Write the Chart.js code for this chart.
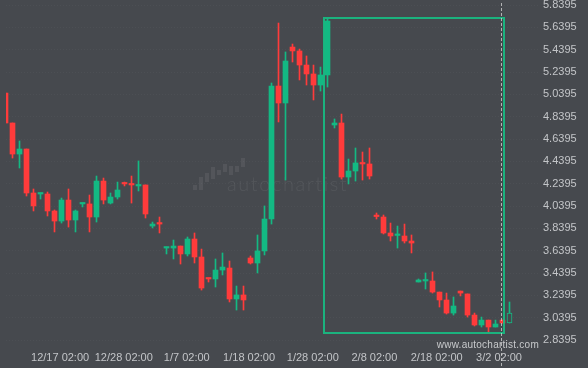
<!DOCTYPE html>
<html>
<head>
<meta charset="utf-8">
<title>Candles</title>
<script src="https://cdn.jsdelivr.net/npm/chart.js@4.4.1/dist/chart.umd.min.js"></script>
<style>
  html, body { margin: 0; padding: 0; background: #46494e; }
  canvas { display: block; }
</style>
</head>
<body>
<canvas id="chart" width="588" height="368"></canvas>
<script>
// daily candles, oldest first
const opens = [
  5.051, 4.783, 4.505, 4.550, 4.156, 4.147, 4.147, 3.995, 3.905, 4.093,
  3.914, 4.058, 4.058, 3.941, 4.263, 4.066, 4.120, 4.245, 4.237, 4.219,
  4.228, 3.860, 3.887, 3.663, 3.663, 3.681, 3.610, 3.744, 3.583, 3.395,
  3.386, 3.466, 3.484, 3.207, 3.243, 3.574, 3.529, 3.637, 3.923, 5.114,
  4.962, 5.463, 5.428, 5.302, 5.222, 5.123, 5.213, 4.765, 4.783, 4.299,
  4.353, 4.425, 4.416, 3.955, 3.941, 3.798, 3.776, 3.771, 3.726, 3.359,
  3.368, 3.368, 3.269, 3.198, 3.081, 3.278, 3.252, 3.063, 2.974, 3.018,
  2.956, 3.018, 2.992
];
const highs = [
  5.051, 4.783, 4.622, 4.550, 4.192, 4.156, 4.165, 4.004, 4.111, 4.192,
  4.004, 4.066, 4.138, 4.308, 4.290, 4.156, 4.254, 4.254, 4.308, 4.443,
  4.228, 3.896, 3.941, 3.672, 3.735, 3.681, 3.762, 3.798, 3.654, 3.395,
  3.565, 3.619, 3.547, 3.323, 3.323, 3.592, 3.780, 4.040, 5.141, 5.678,
  5.419, 5.490, 5.445, 5.383, 5.302, 5.284, 5.714, 4.819, 4.863, 4.460,
  4.559, 4.523, 4.559, 3.977, 3.959, 3.887, 3.860, 3.878, 3.780, 3.386,
  3.440, 3.449, 3.269, 3.260, 3.225, 3.278, 3.252, 3.081, 3.045, 3.018,
  3.018, 3.018, 3.180
];
const lows = [
  4.783, 4.469, 4.380, 4.129, 3.995, 4.102, 3.950, 3.807, 3.887, 3.851,
  3.807, 4.031, 3.807, 3.896, 4.058, 4.058, 4.102, 4.219, 4.066, 4.174,
  3.932, 3.843, 3.798, 3.610, 3.565, 3.520, 3.592, 3.529, 3.287, 3.359,
  3.314, 3.422, 3.180, 3.108, 3.108, 3.520, 3.440, 3.601, 3.878, 4.792,
  4.272, 5.329, 5.168, 5.123, 4.989, 5.069, 5.105, 4.738, 4.281, 4.237,
  4.263, 4.272, 4.281, 3.923, 3.789, 3.726, 3.663, 3.708, 3.619, 3.359,
  3.296, 3.260, 3.135, 3.072, 3.063, 3.234, 3.045, 2.965, 2.956, 2.911,
  2.956, 2.992, 2.992
];
const closes = [
  4.783, 4.505, 4.550, 4.156, 4.040, 4.156, 3.995, 3.905, 4.093, 3.914,
  3.995, 4.066, 3.941, 4.263, 4.093, 4.120, 4.183, 4.237, 4.228, 4.228,
  3.968, 3.878, 3.878, 3.672, 3.681, 3.610, 3.744, 3.583, 3.305, 3.386,
  3.466, 3.493, 3.207, 3.243, 3.198, 3.529, 3.637, 3.923, 5.114, 4.962,
  5.338, 5.428, 5.302, 5.222, 5.123, 5.213, 5.696, 4.783, 4.299, 4.353,
  4.425, 4.416, 4.308, 3.945, 3.798, 3.771, 3.784, 3.726, 3.708, 3.377,
  3.377, 3.269, 3.198, 3.081, 3.144, 3.260, 3.063, 2.974, 3.018, 2.956,
  2.983, 2.992, 3.081
];

// date labels along the bottom and the candle slot each one sits under
const xTickPos = [7.8, 16.9, 25.9, 34.8, 43.9, 52.7, 61.6, 70.5];
const xTickLabels = ['12/17 02:00', '12/28 02:00', '1/7 02:00', '1/18 02:00',
                     '1/28 02:00', '2/8 02:00', '2/18 02:00', '3/2 02:00'];

// price ticks on the right
const yTickVals = [2.8395, 3.0395, 3.2395, 3.4395, 3.6395, 3.8395, 4.0395, 4.2395,
                   4.4395, 4.6395, 4.8395, 5.0395, 5.2395, 5.4395, 5.6395, 5.8395];
const yTickLabels = ['2.8395', '3.0395', '3.2395', '3.4395', '3.6395', '3.8395', '4.0395', '4.2395',
                     '4.4395', '4.6395', '4.8395', '5.0395', '5.2395', '5.4395', '5.6395', '5.8395'];

// pattern box (slots / prices) and the "now" marker
const boxSlots = [45.5, 71.2];
const boxPrices = [5.723, 2.902];
const nowSlot = 70.86;

const BG = '#46494e';
const GREEN = '#13b983';
const RED = '#ff3b3b';
const TEXT = '#c3c5c8';
const lastIdx = closes.length - 1;

const candleColor = i => closes[i] >= opens[i] ? GREEN : RED;

// background fill
const bgPlugin = {
    id: 'bg',
    beforeDraw(chart) {
        const ctx = chart.ctx;
        ctx.save();
        ctx.fillStyle = BG;
        ctx.fillRect(0, 0, chart.width, chart.height);
        ctx.restore();
    }
};

// faint autochartist logo behind the candles
const watermarkPlugin = {
    id: 'watermark',
    beforeDatasetsDraw(chart) {
        const ctx = chart.ctx;
        ctx.save();
        ctx.fillStyle = 'rgba(255,255,255,0.07)';
        const bars = [[193, 185, 190], [199, 177, 190], [205, 173, 182], [211, 167, 179], [217, 170, 175],
                      [223, 164, 172], [229, 166, 175], [235, 166, 172], [241, 158, 167]];
        bars.forEach(b => ctx.fillRect(b[0], b[1], 4, b[2] - b[1]));
        ctx.font = '300 20px Lato, "DejaVu Sans", sans-serif';
        const w = ctx.measureText('autochartist').width;
        ctx.letterSpacing = ((120 - w) / 11).toFixed(2) + 'px';
        ctx.textBaseline = 'alphabetic';
        ctx.fillText('autochartist', 227, 191);
        ctx.restore();
    }
};

// pattern rectangle, now-line and site text
const overlayPlugin = {
    id: 'overlay',
    afterDatasetsDraw(chart) {
        const ctx = chart.ctx;
        const x = chart.scales.x, y = chart.scales.y;
        const x0 = Math.round(x.getPixelForValue(boxSlots[0]));
        const x1 = Math.round(x.getPixelForValue(boxSlots[1]));
        const y0 = Math.round(y.getPixelForValue(boxPrices[0]));
        const y1 = Math.round(y.getPixelForValue(boxPrices[1]));
        ctx.save();
        ctx.strokeStyle = 'rgba(22,190,132,0.9)';
        ctx.lineWidth = 2;
        ctx.strokeRect(x0, y0, x1 - x0, y1 - y0);
        ctx.restore();
    },
    afterDraw(chart) {
        const ctx = chart.ctx;
        const nx = Math.floor(chart.scales.x.getPixelForValue(nowSlot)) + 0.5;
        ctx.save();
        ctx.strokeStyle = 'rgba(215,215,215,0.75)';
        ctx.lineWidth = 1;
        ctx.setLineDash([3, 2]);
        ctx.beginPath();
        ctx.moveTo(nx, 3);
        ctx.lineTo(nx, chart.height);
        ctx.stroke();
        ctx.setLineDash([]);
        ctx.font = '10px "Liberation Sans", Arial, sans-serif';
        const w = ctx.measureText('www.autochartist.com').width;
        ctx.letterSpacing = ((102 - w) / 19).toFixed(2) + 'px';
        ctx.fillStyle = '#c8cacc';
        ctx.textAlign = 'right';
        ctx.textBaseline = 'alphabetic';
        ctx.fillText('www.autochartist.com', 539, 348);
        ctx.restore();
    }
};

const idx = closes.map((_, i) => i);

new Chart(document.getElementById('chart'), {
    type: 'bar',
    data: {
        datasets: [
            {
                // candle bodies
                data: idx.map(i => ({ x: i, y: [opens[i], closes[i]] })),
                backgroundColor: idx.map(i => i === lastIdx ? BG : candleColor(i)),
                borderColor: GREEN,
                borderWidth: idx.map(i => i === lastIdx ? 1 : 0),
                borderSkipped: false,
                barThickness: 5,
                minBarLength: 1.5,
                grouped: false,
                clip: 0
            },
            {
                // wicks
                data: idx.map(i => ({ x: i, y: [lows[i], highs[i]] })),
                backgroundColor: idx.map(i => i === lastIdx ? GREEN : candleColor(i)),
                borderWidth: 0,
                barThickness: 1,
                minBarLength: 1,
                grouped: false,
                clip: 0
            }
        ]
    },
    options: {
        responsive: false,
        animation: false,
        events: [],
        layout: { padding: { left: 6, top: 0, right: 0, bottom: 0 } },
        plugins: {
            legend: { display: false },
            title: { display: false },
            tooltip: { enabled: false }
        },
        scales: {
            x: {
                type: 'linear',
                offset: false,
                min: 0.0714,
                max: 76.0714,
                afterBuildTicks: s => { s.ticks = xTickPos.map(v => ({ value: v })); },
                afterFit: s => { s.height = 22; s.paddingLeft = 0; s.paddingRight = 0; },
                grid: { display: false, drawTicks: false, offset: false },
                border: { display: false },
                ticks: {
                    callback: (v, i) => xTickLabels[i],
                    color: TEXT,
                    font: { family: '"Liberation Sans", Arial, sans-serif', size: 11 },
                    padding: 5,
                    maxRotation: 0,
                    autoSkip: false
                }
            },
            y: {
                position: 'right',
                min: 2.7859,
                max: 5.8843,
                afterBuildTicks: s => { s.ticks = yTickVals.map(v => ({ value: v })); },
                afterFit: s => { s.width = 50; s.paddingTop = 0; s.paddingBottom = 0; },
                grid: { color: 'rgba(255,255,255,0.035)', drawTicks: false },
                border: { display: false, dash: [1, 2] },
                ticks: {
                    callback: (v, i) => yTickLabels[i],
                    color: TEXT,
                    font: { family: '"Liberation Sans", Arial, sans-serif', size: 11 },
                    padding: 5
                }
            }
        }
    },
    plugins: [bgPlugin, watermarkPlugin, overlayPlugin]
});
</script>
</body>
</html>
